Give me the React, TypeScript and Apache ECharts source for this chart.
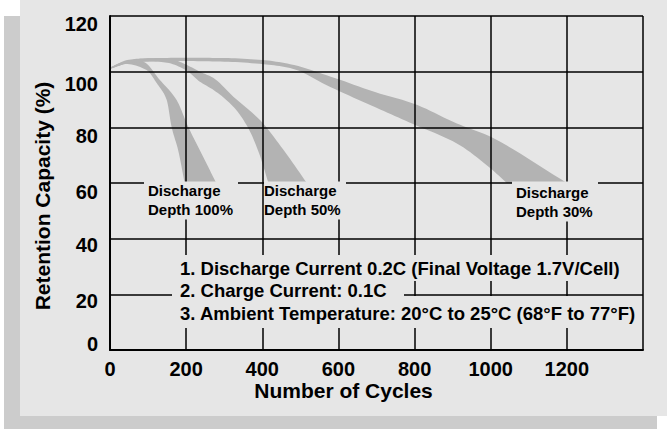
import React, { useEffect, useRef } from 'react';
import * as echarts from 'echarts';

// ---- data ----
const xTicks = [0, 200, 400, 600, 800, 1000, 1200, 1400];
const yTicks = [0, 20, 40, 60, 80, 100, 120];

const depth100Upper: [number, number][] = [[0, 101.5], [40, 103.5], [85, 103.6], [131, 97], [175, 89.8], [206, 80], [236, 71.8], [279, 60]];
const depth100Lower: [number, number][] = [[0, 101], [40, 102.8], [96, 100.6], [123, 95.8], [149, 89.8], [162, 80], [179, 71.8], [196, 60]];

const depth50Upper: [number, number][] = [[0, 101.5], [50, 104.3], [100, 104.8], [160, 104.5], [200, 102.5], [236, 100], [272, 97.7], [324, 91], [394, 82.6], [455, 72], [517, 60]];
const depth50Lower: [number, number][] = [[0, 101], [50, 103.2], [100, 103.8], [150, 103.2], [200, 100.5], [236, 96.4], [272, 93.4], [324, 87.4], [362, 80], [392, 70.5], [416, 60]];

const depth30Upper: [number, number][] = [[0, 101.5], [50, 104], [100, 104.8], [200, 105], [300, 104.9], [400, 104.2], [473, 102.7], [580, 98.2], [700, 92.5], [796, 88.6], [911, 81.4], [1000, 76.6], [1025, 74.8], [1200, 60]];
const depth30Lower: [number, number][] = [[0, 101], [50, 103], [100, 103.6], [200, 103.8], [300, 103.6], [403, 102.7], [473, 101.3], [580, 94.4], [700, 87], [796, 81.2], [911, 74.2], [1000, 65.2], [1042, 60]];

const bandLabels = ['Discharge\nDepth 100%', 'Discharge\nDepth 50%', 'Discharge\nDepth 30%'];
const notes = [
  '1. Discharge Current 0.2C (Final Voltage 1.7V/Cell)',
  '2. Charge Current: 0.1C',
  '3. Ambient Temperature: 20°C to 25°C (68°F to 77°F)',
];
const xAxisTitle = 'Number of Cycles';
const yAxisTitle = 'Retention Capacity (%)';

// ---- styles ----
const FONT = '"Liberation Sans", Arial, Helvetica, sans-serif';
const BG = '#e6e6e6';
const SHADOW = '#cccccc';
const BAND = '#b3b3b3';
const yLabelShift: Record<number, number> = { 0: -6.5, 20: 6.5, 40: 6, 60: 9, 80: 9, 100: 12, 120: 7.5 };

// monotone cubic smoothing in pixel space (x strictly increasing)
function smoothPts(pts: number[][], steps = 10): number[][] {
  const n = pts.length;
  if (n < 3) return pts;
  const dx: number[] = [], m: number[] = [], t: number[] = [];
  for (let i = 0; i < n - 1; i++) {
    dx[i] = pts[i + 1][0] - pts[i][0];
    m[i] = (pts[i + 1][1] - pts[i][1]) / dx[i];
  }
  t[0] = m[0];
  t[n - 1] = m[n - 2];
  for (let i = 1; i < n - 1; i++) {
    if (m[i - 1] * m[i] <= 0) t[i] = 0;
    else t[i] = (3 * (dx[i - 1] + dx[i])) / ((2 * dx[i] + dx[i - 1]) / m[i - 1] + (dx[i] + 2 * dx[i - 1]) / m[i]);
  }
  const out: number[][] = [];
  for (let i = 0; i < n - 1; i++) {
    const [x0, y0] = pts[i];
    const [, y1] = pts[i + 1];
    const h = dx[i];
    for (let s = 0; s < steps; s++) {
      const u = s / steps;
      const h00 = 2 * u * u * u - 3 * u * u + 1;
      const h10 = u * u * u - 2 * u * u + u;
      const h01 = -2 * u * u * u + 3 * u * u;
      const h11 = u * u * u - u * u;
      out.push([x0 + u * h, h00 * y0 + h10 * h * t[i] + h01 * y1 + h11 * h * t[i + 1]]);
    }
  }
  out.push(pts[n - 1]);
  return out;
}

function bandSeries(name: string, upper: [number, number][], lower: [number, number][]) {
  return {
    type: 'custom',
    name,
    coordinateSystem: 'cartesian2d',
    silent: true,
    z: 1,
    clip: false,
    data: [...upper, ...lower.slice().reverse()],
    encode: { x: 0, y: 1 },
    renderItem: (params: any, api: any) => {
      if (params.dataIndex !== 0) return null;
      const up = smoothPts(upper.map((p) => api.coord(p)));
      const lo = smoothPts(lower.map((p) => api.coord(p)));
      return {
        type: 'polygon',
        shape: { points: up.concat(lo.reverse()) },
        style: { fill: BAND, stroke: null },
      };
    },
  };
}

export default function App() {
  const ref = useRef<HTMLDivElement>(null);
  useEffect(() => {
    document.body.style.margin = '0';
    const chart = echarts.init(ref.current!, null, { renderer: 'svg' });
    const rich: Record<string, any> = {};
    yTicks.forEach((v) => {
      const s = yLabelShift[v] || 0;
      rich['v' + v] = {
        fontSize: 20,
        fontWeight: 'bold',
        fontFamily: FONT,
        color: '#000',
        padding: s >= 0 ? [2 * s, 0, 0, 0] : [0, 0, -2 * s, 0],
      };
    });
    const box = (x: number, y: number, w: number, h: number) => ({
      type: 'rect',
      z: 20,
      silent: true,
      shape: { x, y, width: w, height: h },
      style: { fill: BG, stroke: null, opacity: 1 },
    });
    const label = (text: string, x: number, y: number) => ({
      type: 'text',
      x,
      y,
      z: 30,
      silent: true,
      style: {
        text,
        font: `bold 15px ${FONT}`,
        fill: '#000',
        lineHeight: 19,
        align: 'left',
        verticalAlign: 'top',
      },
    });
    const note = (text: string, x: number, yCenter: number) => ({
      type: 'text',
      x,
      y: yCenter,
      z: 30,
      silent: true,
      style: {
        text,
        font: `bold 18.5px ${FONT}`,
        fill: '#000',
        align: 'left',
        verticalAlign: 'middle',
      },
    });
    const option: any = {
      animation: false,
      backgroundColor: '#ffffff',
      grid: { left: 110, right: 24, top: 16, bottom: 79, show: true, backgroundColor: BG, borderWidth: 0, z: -5 },
      xAxis: {
        type: 'value',
        min: 0,
        max: 1400,
        interval: 200,
        z: 5,
        axisLine: { show: true, onZero: false, lineStyle: { color: '#000', width: 2 } },
        axisTick: { show: false },
        splitLine: { show: true, lineStyle: { color: '#000', width: 1.5 } },
        axisLabel: {
          margin: 11,
          lineHeight: 16,
          fontSize: 20,
          fontWeight: 'bold',
          fontFamily: FONT,
          color: '#000',
          formatter: (v: number) => (v === xTicks[xTicks.length - 1] ? '' : String(v)),
        },
      },
      yAxis: {
        type: 'value',
        min: 0,
        max: 120,
        interval: 20,
        z: 5,
        axisLine: { show: true, lineStyle: { color: '#000', width: 2 } },
        axisTick: { show: false },
        splitLine: { show: true, lineStyle: { color: '#000', width: 1.5 } },
        axisLabel: {
          margin: 12,
          fontSize: 20,
          fontWeight: 'bold',
          fontFamily: FONT,
          color: '#000',
          formatter: (v: number) => `{v${v}|${v}}`,
          rich,
        },
      },
      graphic: [
        { type: 'rect', z: -10, silent: true, shape: { x: 4, y: 16, width: 16, height: 413 }, style: { fill: SHADOW } },
        { type: 'rect', z: -10, silent: true, shape: { x: 20, y: 416, width: 637, height: 13 }, style: { fill: SHADOW } },
        { type: 'rect', z: -10, silent: true, shape: { x: 20, y: 0, width: 647, height: 416 }, style: { fill: BG } },
        box(144, 181.5, 94, 38),
        box(264, 181.5, 82, 38),
        box(512, 181.5, 86, 40),
        box(172, 255, 458, 26),
        box(172, 281, 232, 20),
        box(172, 296, 469, 32),
        label(bandLabels[0], 148, 181),
        label(bandLabels[1], 264, 181),
        label(bandLabels[2], 516, 183),
        note(notes[0], 180, 268),
        note(notes[1], 180, 290.5),
        note(notes[2], 180, 313),
        {
          type: 'text',
          x: 343.5,
          y: 390,
          z: 30,
          silent: true,
          style: { text: xAxisTitle, font: `bold 21px ${FONT}`, fill: '#000', align: 'center', verticalAlign: 'middle', lineHeight: 18 },
        },
        {
          type: 'text',
          x: 42,
          y: 196,
          rotation: Math.PI / 2,
          z: 30,
          silent: true,
          style: { text: yAxisTitle, font: `bold 21px ${FONT}`, fill: '#000', align: 'center', verticalAlign: 'middle' },
        },
      ],
      series: [
        bandSeries('Discharge Depth 100%', depth100Upper, depth100Lower),
        bandSeries('Discharge Depth 50%', depth50Upper, depth50Lower),
        bandSeries('Discharge Depth 30%', depth30Upper, depth30Lower),
      ],
    };
    chart.setOption(option);
    return () => chart.dispose();
  }, []);
  return <div ref={ref} style={{ width: 667, height: 429 }} />;
}
